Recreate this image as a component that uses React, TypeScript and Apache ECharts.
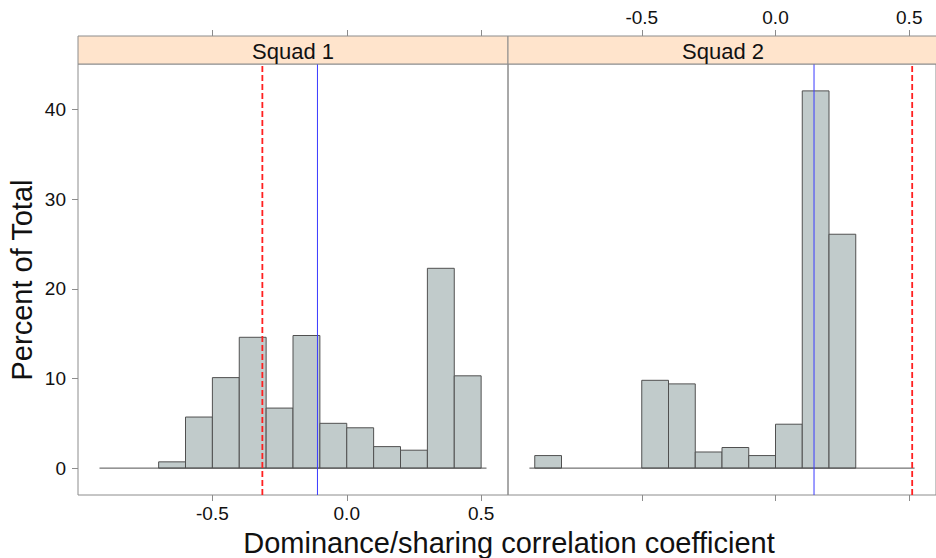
import React, { useEffect, useRef } from "react";
import * as echarts from "echarts";

const panelNames = ["Squad 1", "Squad 2"];
const binWidth = 0.1;
const binStarts1 = [-0.7, -0.6, -0.5, -0.4, -0.3, -0.2, -0.1, 0.0, 0.1, 0.2, 0.3, 0.4];
const pct1 = [0.7, 5.7, 10.1, 14.6, 6.7, 14.8, 5.0, 4.5, 2.4, 2.0, 22.3, 10.3];
const binStarts2 = [-0.9, -0.5, -0.4, -0.3, -0.2, -0.1, 0.0, 0.1, 0.2];
const pct2 = [1.4, 9.8, 9.4, 1.8, 2.3, 1.4, 4.9, 42.1, 26.1];
const blueLines = [-0.109, 0.144];
const redLines = [-0.314, 0.511];
const baselineRange = [-0.92, 0.52];
const xTicks = [-0.5, 0, 0.5];
const yTicks = [0, 10, 20, 30, 40];
const xRange = [-1.0, 0.6];
const yRange = [-3, 45.1];
const xTitle = "Dominance/sharing correlation coefficient";
const yTitle = "Percent of Total";

const FONT = "'Liberation Sans', Arial, sans-serif";
const BORDER = "#8c8c8c";

export default function App() {
  const ref = useRef<HTMLDivElement>(null);
  useEffect(() => {
    document.body.style.margin = "0";
    const chart = echarts.init(ref.current!, undefined, { renderer: "svg" });
    const W = 430;
    const lefts = [78, 508];
    const top = 64;
    const height = 431;

    const grids = lefts.map((l) => ({
      left: l,
      top,
      width: W,
      height,
      show: true,
      borderColor: BORDER,
      borderWidth: 1,
      backgroundColor: "transparent",
    }));

    const fmt = (v: number) => (v === 0 ? "0.0" : v.toFixed(1));
    const xAxes: any[] = [];
    [0, 1].forEach((i) => {
      xAxes.push({
        type: "value",
        gridIndex: i,
        position: "bottom",
        min: xRange[0],
        max: xRange[1],
        axisLine: { show: false, onZero: false },
        splitLine: { show: false },
        axisTick: { show: true, customValues: xTicks, length: 6, lineStyle: { color: BORDER } },
        axisLabel: {
          show: i === 0,
          customValues: xTicks,
          formatter: fmt,
          fontFamily: FONT,
          fontSize: 19,
          color: "#111",
          margin: 9,
        },
      });
      xAxes.push({
        type: "value",
        gridIndex: i,
        position: "top",
        offset: 28,
        min: xRange[0],
        max: xRange[1],
        axisLine: { show: false, onZero: false },
        splitLine: { show: false },
        axisTick: { show: true, customValues: xTicks, length: 6, lineStyle: { color: BORDER } },
        axisLabel: {
          show: i === 1,
          customValues: xTicks,
          formatter: fmt,
          fontFamily: FONT,
          fontSize: 19,
          color: "#111",
          margin: 9,
        },
      });
    });

    const yAxes: any[] = [0, 1].map((i) => ({
      type: "value",
      gridIndex: i,
      position: "left",
      min: yRange[0],
      max: yRange[1],
      axisLine: { show: false, onZero: false },
      splitLine: { show: false },
      axisTick: { show: i === 0, customValues: yTicks, length: 6, lineStyle: { color: BORDER } },
      axisLabel: {
        show: i === 0,
        customValues: yTicks,
        fontFamily: FONT,
        fontSize: 19,
        color: "#111",
        margin: 12,
      },
    }));

    const makeBars = (starts: number[], vals: number[], idx: number) => ({
      type: "custom",
      xAxisIndex: idx * 2,
      yAxisIndex: idx,
      encode: { x: [0, 1], y: 2 },
      data: starts.map((s, k) => [s, s + binWidth, vals[k]]),
      renderItem: (params: any, api: any) => {
        const p0 = api.coord([api.value(0), 0]);
        const p1 = api.coord([api.value(1), api.value(2)]);
        return {
          type: "rect",
          shape: { x: p0[0], y: p1[1], width: p1[0] - p0[0], height: p0[1] - p1[1] },
          style: { fill: "#c1cbcb", stroke: "#505050", lineWidth: 1 },
        };
      },
      z: 2,
    });

    const vline = (x: number, idx: number, color: string, width: number, dash: any) => ({
      type: "line",
      xAxisIndex: idx * 2,
      yAxisIndex: idx,
      data: [
        [x, yRange[0]],
        [x, yRange[1]],
      ],
      symbol: "none",
      lineStyle: { color, width, type: dash },
      silent: true,
      z: 4,
    });

    const baseline = (idx: number) => ({
      type: "line",
      xAxisIndex: idx * 2,
      yAxisIndex: idx,
      data: [
        [baselineRange[0], 0],
        [baselineRange[1], 0],
      ],
      symbol: "none",
      lineStyle: { color: "#505050", width: 1 },
      silent: true,
      z: 3,
    });

    const series: any[] = [
      makeBars(binStarts1, pct1, 0),
      makeBars(binStarts2, pct2, 1),
      baseline(0),
      baseline(1),
      vline(blueLines[0], 0, "#3a3aff", 1, "solid"),
      vline(blueLines[1], 1, "#3a3aff", 1, "solid"),
      vline(redLines[0], 0, "#ff2020", 1.8, [6, 3]),
      vline(redLines[1], 1, "#ff2020", 1.8, [6, 3]),
    ];

    const graphics: any[] = [];
    lefts.forEach((l, i) => {
      graphics.push({
        type: "rect",
        shape: { x: l, y: 36, width: W, height: 28 },
        style: { fill: "#ffe4cc", stroke: BORDER, lineWidth: 1 },
        z: 10,
      });
      graphics.push({
        type: "text",
        x: l + W / 2,
        y: 51,
        style: {
          text: panelNames[i],
          fill: "#111",
          font: `22px ${FONT}`,
          textAlign: "center",
          textVerticalAlign: "middle",
        },
        z: 11,
      });
    });
    graphics.push({
      type: "text",
      x: 509,
      y: 543,
      style: {
        text: xTitle,
        fill: "#111",
        font: `29px ${FONT}`,
        textAlign: "center",
        textVerticalAlign: "middle",
      },
    });
    graphics.push({
      type: "text",
      x: 22,
      y: 280,
      rotation: Math.PI / 2,
      style: {
        text: yTitle,
        fill: "#111",
        font: `29px ${FONT}`,
        textAlign: "center",
        textVerticalAlign: "middle",
      },
    });

    chart.setOption({
      animation: false,
      backgroundColor: "#fff",
      grid: grids,
      xAxis: xAxes,
      yAxis: yAxes,
      series,
      graphic: graphics,
    });
    return () => chart.dispose();
  }, []);
  return <div ref={ref} style={{ width: 936, height: 558 }} />;
}
